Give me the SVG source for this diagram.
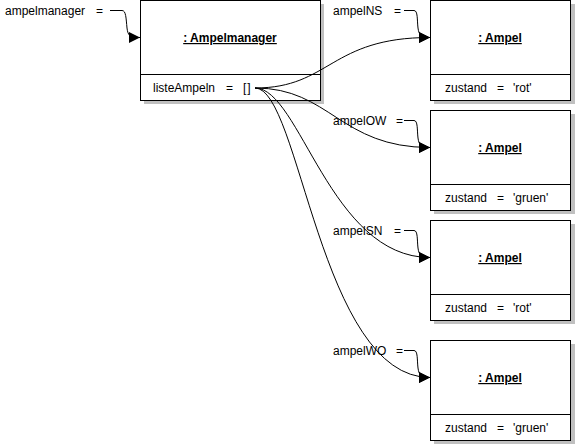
<svg xmlns="http://www.w3.org/2000/svg" width="575" height="445" viewBox="0 0 575 445">
<style>
text{font-family:"Liberation Sans",Arial,sans-serif;font-size:12px;fill:#000}
.t{font-weight:bold;text-decoration:underline;text-anchor:middle}
.box{fill:#fff;stroke:#000;stroke-width:1}
.sh{fill:#c0c0c0}
.ln{fill:none;stroke:#000;stroke-width:1}
</style>
<defs>
<marker id="ah" markerWidth="11" markerHeight="11" refX="11" refY="5.5" orient="auto" markerUnits="userSpaceOnUse">
<path d="M0,0 L11,5.5 L0,11 z" fill="#000"/>
</marker>
</defs>
<rect width="575" height="445" fill="#fff"/>
<g id="ampelmanager">
<rect class="sh" x="144" y="4" width="180" height="100"/>
<rect class="box" x="140.5" y="0.5" width="180" height="100"/>
<line class="ln" x1="140.5" y1="74.5" x2="320.5" y2="74.5"/>
<text class="t" x="230" y="42">: Ampelmanager</text>
<text x="153" y="92">listeAmpeln<tspan x="226">=</tspan><tspan x="243" letter-spacing="1">[]</tspan></text>
</g>
<g id="ampel1">
<rect class="sh" x="434" y="4" width="141" height="100"/>
<rect class="box" x="430.5" y="0.5" width="140" height="100"/>
<line class="ln" x1="430.5" y1="74.5" x2="570.5" y2="74.5"/>
<text class="t" x="500" y="42">: Ampel</text>
<text x="445" y="92">zustand<tspan x="497">=</tspan><tspan x="513">'rot'</tspan></text>
</g>
<g id="ampel2">
<rect class="sh" x="434" y="114" width="141" height="100"/>
<rect class="box" x="430.5" y="110.5" width="140" height="100"/>
<line class="ln" x1="430.5" y1="184.5" x2="570.5" y2="184.5"/>
<text class="t" x="500" y="152">: Ampel</text>
<text x="445" y="202">zustand<tspan x="497">=</tspan><tspan x="513">'gruen'</tspan></text>
</g>
<g id="ampel3">
<rect class="sh" x="434" y="224" width="141" height="100"/>
<rect class="box" x="430.5" y="220.5" width="140" height="100"/>
<line class="ln" x1="430.5" y1="294.5" x2="570.5" y2="294.5"/>
<text class="t" x="500" y="262">: Ampel</text>
<text x="445" y="312">zustand<tspan x="497">=</tspan><tspan x="513">'rot'</tspan></text>
</g>
<g id="ampel4">
<rect class="sh" x="434" y="344" width="141" height="100"/>
<rect class="box" x="430.5" y="340.5" width="140" height="100"/>
<line class="ln" x1="430.5" y1="414.5" x2="570.5" y2="414.5"/>
<text class="t" x="500" y="382">: Ampel</text>
<text x="445" y="432">zustand<tspan x="497">=</tspan><tspan x="513">'gruen'</tspan></text>
</g>
<g id="labels">
<text x="5" y="15">ampelmanager<tspan x="96">=</tspan></text>
<text x="333" y="15">ampelNS<tspan x="394">=</tspan></text>
<text x="333" y="125">ampelOW<tspan x="396">=</tspan></text>
<text x="333" y="235">ampelSN<tspan x="394">=</tspan></text>
<text x="333" y="355">ampelWO<tspan x="396">=</tspan></text>
</g>
<g id="connectors">
<path class="ln" marker-end="url(#ah)" d="M110,10.5 L122,10.5 C126,10.5 126,18 127,28 C128,36 130,37.5 140,37.5"/>
<path class="ln" marker-end="url(#ah)" d="M404,10.5 L414,10.5 C418,10.5 417,20 418,28 C419,36 422,37.5 430,37.5"/>
<path class="ln" marker-end="url(#ah)" d="M404,120.5 L414,120.5 C418,120.5 417,130 418,138 C419,146 422,147.5 430,147.5"/>
<path class="ln" marker-end="url(#ah)" d="M404,230.5 L414,230.5 C418,230.5 417,240 418,248 C419,256 422,257.5 430,257.5"/>
<path class="ln" marker-end="url(#ah)" d="M404,350.5 L414,350.5 C418,350.5 417,360 418,368 C419,376 422,377.5 430,377.5"/>
<path class="ln" marker-end="url(#ah)" d="M255,88 C330,88 330,37.5 430,37.5"/>
<path class="ln" marker-end="url(#ah)" d="M255,88 C330,88 340,147.5 430,147.5"/>
<path class="ln" marker-end="url(#ah)" d="M255,88 C300,88 330,257.5 430,257.5"/>
<path class="ln" marker-end="url(#ah)" d="M255,88 C300,88 320,377.5 430,377.5"/>
</g>
</svg>
